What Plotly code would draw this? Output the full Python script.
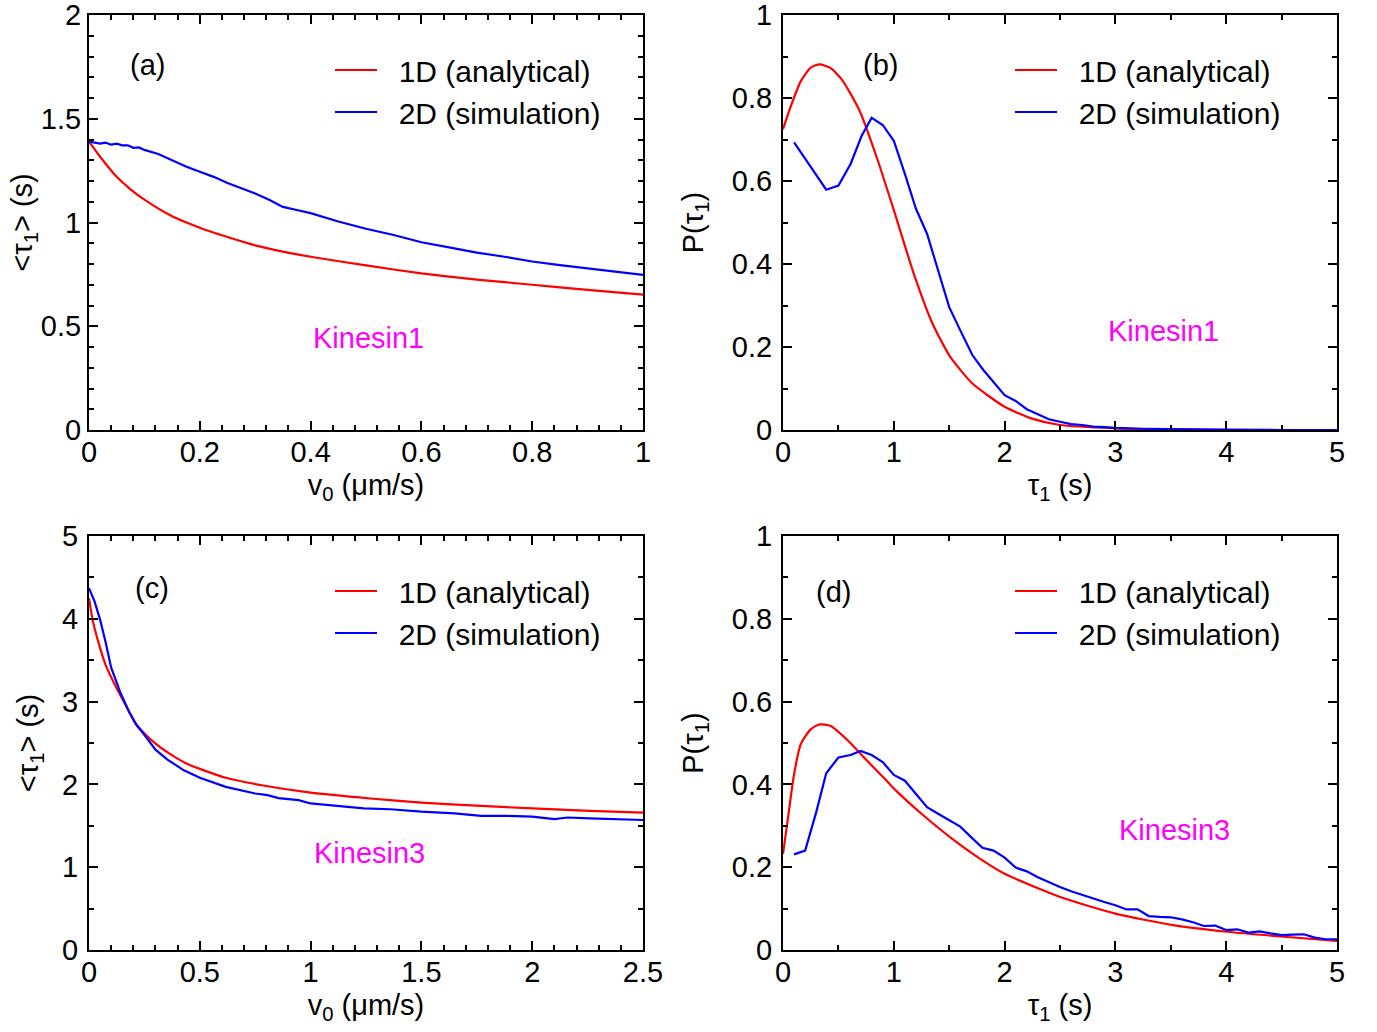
import plotly.graph_objects as go

# ---------------- data ----------------
# (a) Kinesin1: mean first passage time vs v0
a_red_x = [0, 0.025, 0.05, 0.075, 0.1, 0.15, 0.2, 0.25, 0.3, 0.35, 0.4, 0.5, 0.6, 0.7, 0.8, 0.9, 1.0]
a_red_y = [1.39, 1.30, 1.22, 1.16, 1.11, 1.03, 0.975, 0.93, 0.89, 0.86, 0.835, 0.793, 0.755, 0.725, 0.70, 0.675, 0.652]
a_blue_x = [0, 0.01, 0.02, 0.03, 0.04, 0.05, 0.06, 0.07, 0.08, 0.09, 0.1, 0.125, 0.15, 0.175, 0.2, 0.225,
            0.25, 0.275, 0.3, 0.325, 0.35, 0.375, 0.4, 0.45, 0.5, 0.55, 0.6, 0.65, 0.7, 0.75, 0.8, 0.85,
            0.9, 0.95, 1.0]
a_blue_y = [1.39, 1.385, 1.38, 1.385, 1.375, 1.38, 1.372, 1.372, 1.36, 1.362, 1.35, 1.33, 1.30, 1.27, 1.245,
            1.22, 1.19, 1.165, 1.14, 1.11, 1.075, 1.06, 1.045, 1.005, 0.97, 0.94, 0.905, 0.88, 0.855, 0.835,
            0.812, 0.795, 0.78, 0.765, 0.748]

# (b) Kinesin1: distribution P(tau1)
b_red_x = [0, 0.066, 0.16, 0.25, 0.33, 0.43, 0.53, 0.69, 0.855, 1.02, 1.18, 1.35, 1.51, 1.71, 2.0, 2.24, 2.5,
           3.0, 3.5, 4.0, 5.0]
b_red_y = [0.725, 0.777, 0.84, 0.873, 0.881, 0.872, 0.845, 0.77, 0.65, 0.513, 0.377, 0.256, 0.176, 0.112,
           0.056, 0.028, 0.012, 0.004, 0.001, 0.0, 0.0]
b_blue_x = [0.1, 0.39, 0.5, 0.61, 0.71, 0.8, 0.9, 1.0, 1.1, 1.2, 1.3, 1.4, 1.5, 1.6, 1.71, 1.81, 1.91, 2.0,
            2.1, 2.2, 2.3, 2.4, 2.5, 2.6, 2.7, 2.8, 2.9, 3.0, 3.25, 3.5, 4.0, 4.5, 5.0]
b_blue_y = [0.693, 0.579, 0.589, 0.641, 0.709, 0.752, 0.735, 0.697, 0.617, 0.533, 0.473, 0.385, 0.296, 0.24,
            0.18, 0.144, 0.112, 0.084, 0.07, 0.05, 0.038, 0.026, 0.02, 0.014, 0.012, 0.008, 0.007, 0.005,
            0.003, 0.002, 0.001, 0.0, 0.0]

# (c) Kinesin3: mean first passage time vs v0
c_red_x = [0, 0.016, 0.041, 0.074, 0.123, 0.173, 0.214, 0.288, 0.37, 0.45, 0.617, 0.78, 1.0, 1.27, 1.5,
           1.77, 2.0, 2.26, 2.5]
c_red_y = [4.25, 3.99, 3.73, 3.45, 3.17, 2.92, 2.72, 2.52, 2.36, 2.24, 2.08, 1.99, 1.90, 1.83, 1.78, 1.74,
           1.71, 1.68, 1.66]
c_blue_x = [0, 0.025, 0.05, 0.074, 0.1, 0.14, 0.18, 0.214, 0.255, 0.30, 0.354, 0.428, 0.5, 0.617, 0.75,
            0.806, 0.855, 0.946, 1.0, 1.11, 1.24, 1.36, 1.5, 1.65, 1.77, 1.88, 2.0, 2.1, 2.16, 2.26, 2.36, 2.5]
c_blue_y = [4.37, 4.21, 3.99, 3.73, 3.41, 3.12, 2.88, 2.72, 2.58, 2.42, 2.30, 2.17, 2.08, 1.97, 1.89, 1.87,
            1.835, 1.81, 1.77, 1.74, 1.71, 1.70, 1.67, 1.65, 1.62, 1.62, 1.61, 1.58, 1.60, 1.59, 1.58, 1.57]

# (d) Kinesin3: distribution P(tau1)
d_red_x = [0, 0.05, 0.1, 0.16, 0.25, 0.33, 0.43, 0.59, 0.76, 0.92, 1.02, 1.25, 1.51, 1.78, 2.0, 2.5, 3.0,
           3.52, 4.01, 4.52, 5.0]
d_red_y = [0.232, 0.329, 0.425, 0.497, 0.533, 0.545, 0.541, 0.505, 0.457, 0.413, 0.385, 0.329, 0.272, 0.22,
           0.184, 0.128, 0.088, 0.06, 0.044, 0.032, 0.022]
d_blue_x = [0.1, 0.2, 0.3, 0.39, 0.5, 0.61, 0.7, 0.8, 0.9, 1.0, 1.1, 1.2, 1.3, 1.4, 1.5, 1.6, 1.7, 1.8, 1.9,
            2.0, 2.1, 2.2, 2.3, 2.4, 2.5, 2.6, 2.7, 2.8, 2.9, 3.0, 3.1, 3.2, 3.3, 3.4, 3.5, 3.6, 3.7, 3.8,
            3.9, 4.0, 4.1, 4.2, 4.3, 4.4, 4.5, 4.6, 4.7, 4.8, 4.9, 5.0]
d_blue_y = [0.231, 0.24, 0.333, 0.427, 0.465, 0.471, 0.481, 0.471, 0.454, 0.423, 0.409, 0.377, 0.345, 0.329,
            0.313, 0.298, 0.272, 0.247, 0.24, 0.223, 0.199, 0.19, 0.176, 0.163, 0.152, 0.142, 0.133, 0.124,
            0.116, 0.108, 0.098, 0.098, 0.082, 0.08, 0.079, 0.074, 0.067, 0.058, 0.059, 0.048, 0.05, 0.042,
            0.045, 0.04, 0.036, 0.037, 0.038, 0.03, 0.026, 0.026]

series_names = ["1D (analytical)", "2D (simulation)"]
panel_labels = ["(a)", "(b)", "(c)", "(d)"]
motor_labels = ["Kinesin1", "Kinesin1", "Kinesin3", "Kinesin3"]

# ---------------- styling / layout ----------------
W, H = 1377, 1032
FONT = "Liberation Sans, Arial, Helvetica, sans-serif"
FS = 29
LFS = 30
RED, BLUE, MAG = "#ff0000", "#0000ff", "#ff00ff"
GAP = "\u00a0\u00a0"

def px_x(p):
    return p / W

def px_y(p):
    return 1 - p / H

dom_x = [[px_x(89), px_x(643)], [px_x(783), px_x(1337)]]
dom_y = [[px_y(430), px_y(15)], [px_y(950), px_y(536)]]

panels = [
    dict(rx=a_red_x, ry=a_red_y, bx=a_blue_x, by=a_blue_y, xr=[0, 1], yr=[0, 2], xd=0.2, xm=0.04, yd=0.5, ym=0.1,
         xt="v<sub>0</sub> (μm/s)", yt="&lt;τ<sub>1</sub>&gt; (s)", col=0, row=0, ys=0, yls=0),
    dict(rx=b_red_x, ry=b_red_y, bx=b_blue_x, by=b_blue_y, xr=[0, 5], yr=[0, 1], xd=1, xm=0.5, yd=0.2, ym=0.1,
         xt="τ<sub>1</sub> (s)", yt="P(τ<sub>1</sub>)", col=1, row=0, ys=20, yls=3),
    dict(rx=c_red_x, ry=c_red_y, bx=c_blue_x, by=c_blue_y, xr=[0, 2.5], yr=[0, 5], xd=0.5, xm=0.1, yd=1, ym=0.5,
         xt="v<sub>0</sub> (μm/s)", yt="&lt;τ<sub>1</sub>&gt; (s)", col=0, row=1, ys=15, yls=3),
    dict(rx=d_red_x, ry=d_red_y, bx=d_blue_x, by=d_blue_y, xr=[0, 5], yr=[0, 1], xd=1, xm=0.5, yd=0.2, ym=0.1,
         xt="τ<sub>1</sub> (s)", yt="P(τ<sub>1</sub>)", col=1, row=1, ys=20, yls=3),
]

# label positions (pixel centres)
lab_pos = [(147, 65), (880, 65), (152, 588), (833, 592)]
mot_pos = [(368, 338), (1163, 331), (369, 853), (1174, 830)]
leg_pos = [(330, 44), (1010, 44), (330, 565), (1010, 565)]

fig = go.Figure()
layout = dict(
    width=W, height=H,
    margin=dict(l=0, r=0, t=0, b=0, autoexpand=False),
    paper_bgcolor="white", plot_bgcolor="white",
    font=dict(family=FONT, size=FS, color="black"),
    annotations=[],
)

for i, p in enumerate(panels):
    k = i + 1
    xa = "x" if k == 1 else f"x{k}"
    ya = "y" if k == 1 else f"y{k}"
    lg = "legend" if k == 1 else f"legend{k}"
    fig.add_trace(go.Scatter(x=p["rx"], y=p["ry"], mode="lines", name=GAP + series_names[0],
                             line=dict(color=RED, width=2.2, shape="spline", smoothing=0.6),
                             xaxis=xa, yaxis=ya, legend=lg))
    fig.add_trace(go.Scatter(x=p["bx"], y=p["by"], mode="lines", name=GAP + series_names[1],
                             line=dict(color=BLUE, width=2.2),
                             xaxis=xa, yaxis=ya, legend=lg))
    axis_common = dict(showline=True, linewidth=2, linecolor="black", mirror="ticks",
                       ticks="inside", ticklen=9, tickwidth=2, tickcolor="black",
                       showgrid=False, zeroline=False, fixedrange=True, automargin=False,
                       ticklabeloverflow="allow",
                       tickfont=dict(family=FONT, size=FS, color="black"))
    xkey = "xaxis" if k == 1 else f"xaxis{k}"
    ykey = "yaxis" if k == 1 else f"yaxis{k}"
    layout[xkey] = dict(axis_common, domain=dom_x[p["col"]], anchor=ya, range=p["xr"],
                        tick0=0, dtick=p["xd"], ticklabelstandoff=-5,
                        minor=dict(dtick=p["xm"], tick0=0, ticks="inside", ticklen=5, tickwidth=1.5,
                                   tickcolor="black", showgrid=False),
                        title=dict(text=p["xt"], font=dict(family=FONT, size=FS), standoff=8))
    layout[ykey] = dict(axis_common, domain=dom_y[p["row"]], anchor=xa, range=p["yr"],
                        tick0=0, dtick=p["yd"], ticklabelstandoff=p["yls"],
                        minor=dict(dtick=p["ym"], tick0=0, ticks="inside", ticklen=5, tickwidth=1.5,
                                   tickcolor="black", showgrid=False),
                        title=dict(text=p["yt"], font=dict(family=FONT, size=FS), standoff=p["ys"]))
    lx, ly = leg_pos[i]
    layout[lg] = dict(x=px_x(lx), y=px_y(ly), xanchor="left", yanchor="top",
                      bgcolor="rgba(0,0,0,0)", borderwidth=0,
                      font=dict(family=FONT, size=LFS, color="black"),
                      itemwidth=42, tracegroupgap=0)
    ax, ay = lab_pos[i]
    layout["annotations"].append(dict(text=panel_labels[i], x=px_x(ax), y=px_y(ay), xref="paper", yref="paper",
                                      showarrow=False, xanchor="center", yanchor="middle",
                                      font=dict(family=FONT, size=FS, color="black")))
    mx, my = mot_pos[i]
    layout["annotations"].append(dict(text=motor_labels[i], x=px_x(mx), y=px_y(my), xref="paper", yref="paper",
                                      showarrow=False, xanchor="center", yanchor="middle",
                                      font=dict(family=FONT, size=FS, color=MAG)))

fig.update_layout(**layout)
fig.update_layout(showlegend=True)
fig.write_html("out.html", config={"displayModeBar": False},
               post_script="document.body.style.margin='0px';")
